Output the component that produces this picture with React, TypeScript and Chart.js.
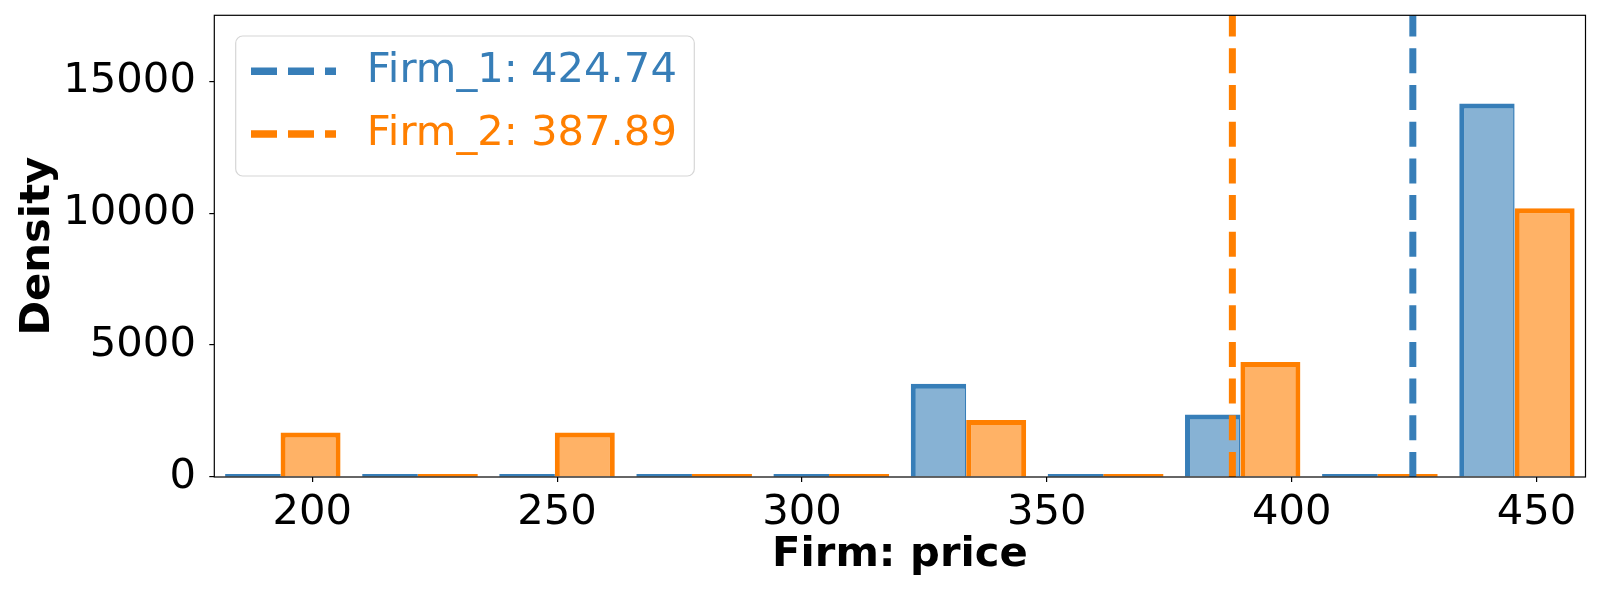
import React, { useEffect, useRef } from 'react';
import { Chart, registerables } from 'chart.js';

Chart.register(...registerables);

// ---- data ----
const binCenters = [194, 222, 250, 278, 306, 334, 362, 390, 418, 446];
const firm1Density = [0, 0, 0, 0, 0, 3530, 0, 2370, 0, 14160];
const firm2Density = [1685, 0, 1685, 0, 0, 2165, 0, 4360, 0, 10190];
const meanLabels = ['Firm_1: 424.74', 'Firm_2: 387.89'];
const meanValues = [424.74, 387.89];
const xTicks = [200, 250, 300, 350, 400, 450];
const yTicks = [0, 5000, 10000, 15000];
const xRange = [180, 460];
const yRange = [0, 17500];

// ---- style ----
const FAMILY = 'DejaVu Sans';
const FS = 41.7;
const BLUE = '#377eb8';
const BLUE_FILL = 'rgba(55,126,184,0.6)';
const ORANGE = '#ff7f00';
const ORANGE_FILL = 'rgba(255,127,0,0.6)';
const lineColors = [BLUE, ORANGE];

const framePlugin = {
  id: 'framePlugin',
  afterLayout(chart: any) {
    const lg = chart.legend;
    if (lg) {
      lg.left = 229.9;
      lg.top = 29.25;
      lg.width = 480;
      lg.height = 300;
      lg.right = lg.left + lg.width;
      lg.bottom = lg.top + lg.height;
    }
  },
  beforeDraw(chart: any) {
    const lg = chart.legend;
    if (!lg) return;
    const ctx = chart.ctx;
    const x = lg.left + 5.8;
    const y = lg.top + 6.75;
    const w = 458.6;
    const h = 140;
    const r = 7;
    ctx.save();
    ctx.beginPath();
    ctx.moveTo(x + r, y);
    ctx.lineTo(x + w - r, y);
    ctx.arcTo(x + w, y, x + w, y + r, r);
    ctx.lineTo(x + w, y + h - r);
    ctx.arcTo(x + w, y + h, x + w - r, y + h, r);
    ctx.lineTo(x + r, y + h);
    ctx.arcTo(x, y + h, x, y + h - r, r);
    ctx.lineTo(x, y + r);
    ctx.arcTo(x, y, x + r, y, r);
    ctx.closePath();
    ctx.fillStyle = 'rgba(255,255,255,0.8)';
    ctx.fill();
    ctx.lineWidth = 1.2;
    ctx.strokeStyle = '#d6d6d6';
    ctx.stroke();
    ctx.restore();
  },
  afterDatasetsDraw(chart: any) {
    const { ctx, chartArea } = chart;
    ctx.save();
    ctx.strokeStyle = '#000';
    ctx.lineWidth = 1.2;
    ctx.strokeRect(chartArea.left, chartArea.top, chartArea.right - chartArea.left, chartArea.bottom - chartArea.top);
    ctx.restore();
  },
};

const noPad = (s: any) => {
  s.paddingTop = 0;
  s.paddingBottom = 0;
  s.paddingLeft = 0;
  s.paddingRight = 0;
};

export default function App() {
  const canvasRef = useRef<HTMLCanvasElement | null>(null);

  useEffect(() => {
    if (!canvasRef.current) return;
    Chart.defaults.font.family = FAMILY;
    const tickFont = { family: FAMILY, size: FS };
    const titleFont = { family: FAMILY, size: FS, weight: 'bold' as const };

    const zero = (c: any) => c.raw && c.raw.y === 0;

    const chart = new Chart(canvasRef.current, {
      type: 'bar',
      data: {
        datasets: [
          {
            type: 'bar',
            label: 'Firm_1',
            data: binCenters.map((x, i) => ({ x, y: firm1Density[i] })),
            backgroundColor: (c: any) => (zero(c) ? BLUE : BLUE_FILL),
            borderColor: BLUE,
            borderWidth: (c: any) => (zero(c) ? 0 : { top: 5, left: 5, right: 1.5, bottom: 0 }),
            borderSkipped: false,
            minBarLength: 3,
            categoryPercentage: 0.875,
            barPercentage: 0.923,
            clip: 0,
            order: 0,
          } as any,
          {
            type: 'bar',
            label: 'Firm_2',
            data: binCenters.map((x, i) => ({ x, y: firm2Density[i] })),
            backgroundColor: (c: any) => (zero(c) ? ORANGE : ORANGE_FILL),
            borderColor: ORANGE,
            borderWidth: (c: any) => (zero(c) ? 0 : { top: 5, left: 5, right: 5, bottom: 0 }),
            borderSkipped: false,
            minBarLength: 3,
            categoryPercentage: 0.808,
            barPercentage: 1.083,
            clip: 0,
            order: 0,
          } as any,
          ...meanValues.map((m, i) => ({
            type: 'line',
            label: meanLabels[i],
            data: [
              { x: m, y: yRange[0] },
              { x: m, y: yRange[1] },
            ],
            borderColor: lineColors[i],
            backgroundColor: lineColors[i],
            borderWidth: 7,
            borderDash: [25, 11.7],
            borderCapStyle: 'butt',
            pointRadius: 0,
            fill: false,
            tension: 0,
            order: -1,
          } as any)),
        ],
      },
      options: {
        responsive: false,
        animation: false,
        events: [],
        layout: { padding: { left: 0, top: 15.3, right: 14.5, bottom: 0 } },
        scales: {
          x: {
            type: 'linear',
            min: xRange[0],
            max: xRange[1],
            offset: false,
            afterBuildTicks: (s: any) => {
              s.ticks = xTicks.map((v) => ({ value: v }));
            },
            afterFit: (s: any) => {
              s.height = 123;
              noPad(s);
            },
            ticks: {
              font: tickFont,
              color: '#000',
              padding: 6.3,
              maxRotation: 0,
              autoSkip: false,
              callback: (v: any) => String(v),
            },
            grid: {
              display: true,
              drawOnChartArea: false,
              drawTicks: true,
              tickLength: 5,
              color: '#000',
              lineWidth: 1.2,
              offset: false,
            },
            border: { display: false },
            title: {
              display: true,
              text: 'Firm: price',
              font: titleFont,
              color: '#000',
              padding: { top: 0, bottom: 20.1 },
            },
          },
          y: {
            type: 'linear',
            min: yRange[0],
            max: yRange[1],
            afterBuildTicks: (s: any) => {
              s.ticks = yTicks.map((v) => ({ value: v }));
            },
            afterFit: (s: any) => {
              s.width = 214.3;
              noPad(s);
            },
            ticks: {
              font: tickFont,
              color: '#000',
              padding: 13.4,
              autoSkip: false,
              callback: (v: any) => String(v),
            },
            grid: {
              display: true,
              drawOnChartArea: false,
              drawTicks: true,
              tickLength: 5,
              color: '#000',
              lineWidth: 1.2,
            },
            border: { display: false },
            title: {
              display: true,
              text: 'Density',
              font: titleFont,
              color: '#000',
              padding: { top: 12.9, bottom: 0 },
            },
          },
        },
        plugins: {
          tooltip: { enabled: false },
          legend: {
            display: true,
            position: 'chartArea',
            align: 'start',
            labels: {
              font: { family: FAMILY, size: FS },
              padding: 21.1,
              usePointStyle: true,
              pointStyleWidth: 95,
              generateLabels: () =>
                meanLabels.map((t, i) => ({
                  text: t,
                  fontColor: lineColors[i],
                  strokeStyle: lineColors[i],
                  fillStyle: lineColors[i],
                  lineWidth: 7.5,
                  lineCap: 'butt',
                  lineDash: [26, 11, 26, 11, 11, 10],
                  pointStyle: 'line',
                  hidden: false,
                  datasetIndex: 2 + i,
                })) as any,
            },
          } as any,
        },
      } as any,
      plugins: [framePlugin],
    });
    return () => chart.destroy();
  }, []);

  return (
    <div style={{ position: 'fixed', left: 0, top: 0, width: 1600, height: 600, background: '#fff' }}>
      <canvas ref={canvasRef} width={1600} height={600} style={{ display: 'block', width: 1600, height: 600 }} />
    </div>
  );
}
